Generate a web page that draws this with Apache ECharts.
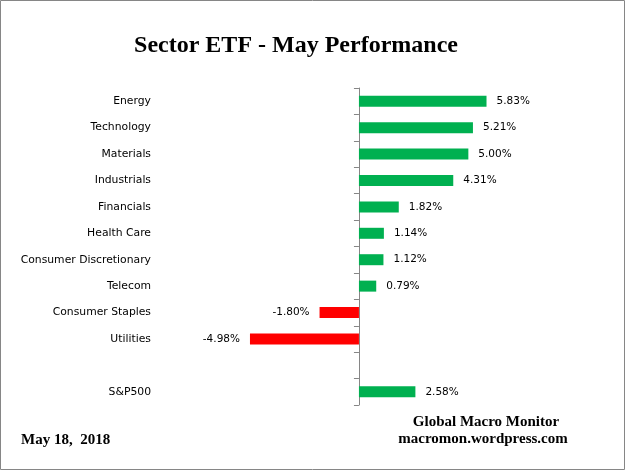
<!DOCTYPE html>
<html><head><meta charset="utf-8">
<script src="https://cdn.jsdelivr.net/npm/echarts@6/dist/echarts.min.js"></script>
<style>html,body{margin:0;padding:0;background:#fff}#c{width:626px;height:471px}</style>
</head><body><div id="c"></div>
<script>
const categories = ['Energy','Technology','Materials','Industrials','Financials','Health Care','Consumer Discretionary','Telecom','Consumer Staples','Utilities','','S&P500'];
const values = [5.83,5.21,5.00,4.31,1.82,1.14,1.12,0.79,-1.80,-4.98,null,2.58];

const chart = echarts.init(document.getElementById('c'));
const data = values.map(v => v === null ? '-' : {
  value: v,
  itemStyle: {color: v >= 0 ? '#00B050' : '#FF0000'},
  label: {position: v >= 0 ? 'right' : 'left'}
});
chart.setOption({
  animation: false,
  grid: {left: 162, top: 88, width: 372, height: 317, containLabel: false},
  xAxis: {type: 'value', min: -9, max: 8, show: false},
  yAxis: [{
    type: 'category', data: categories, inverse: true, position: 'left',
    axisLine: {show: false, onZero: false}, axisTick: {show: false},
    axisLabel: {margin: 11, fontFamily: 'DejaVu Sans', fontSize: 10.8, color: '#000'}
  }, {
    type: 'category', data: categories, inverse: true, position: 'left',
    axisLine: {show: true, onZero: true, lineStyle: {color: '#868686', width: 1}},
    axisTick: {show: true, length: 5, lineStyle: {color: '#868686'}},
    axisLabel: {show: false}
  }],
  series: [{
    type: 'bar', data: data, barWidth: 11, yAxisIndex: 1,
    label: {show: true, distance: 10, formatter: p => p.value.toFixed(2) + '%',
      fontFamily: 'DejaVu Sans', fontSize: 10.5, color: '#000'}
  }],
  graphic: [
    {type: 'rect', shape: {x: 0.5, y: 0.5, width: 624, height: 469}, style: {fill: 'none', stroke: '#868686', lineWidth: 1}, silent: true},
    {type: 'text', x: 296, y: 46, style: {text: 'Sector ETF - May Performance', font: 'bold 24px "Liberation Serif"', fill: '#000', align: 'center', verticalAlign: 'middle'}},
    {type: 'text', x: 21, y: 440, style: {text: 'May 18,  2018', font: 'bold 15px "Liberation Serif"', fill: '#000', verticalAlign: 'middle'}},
    {type: 'text', x: 486, y: 422, style: {text: 'Global Macro Monitor', font: 'bold 15px "Liberation Serif"', fill: '#000', align: 'center', verticalAlign: 'middle'}},
    {type: 'text', x: 483, y: 439, style: {text: 'macromon.wordpress.com', font: 'bold 15px "Liberation Serif"', fill: '#000', align: 'center', verticalAlign: 'middle'}}
  ]
});
</script></body></html>
